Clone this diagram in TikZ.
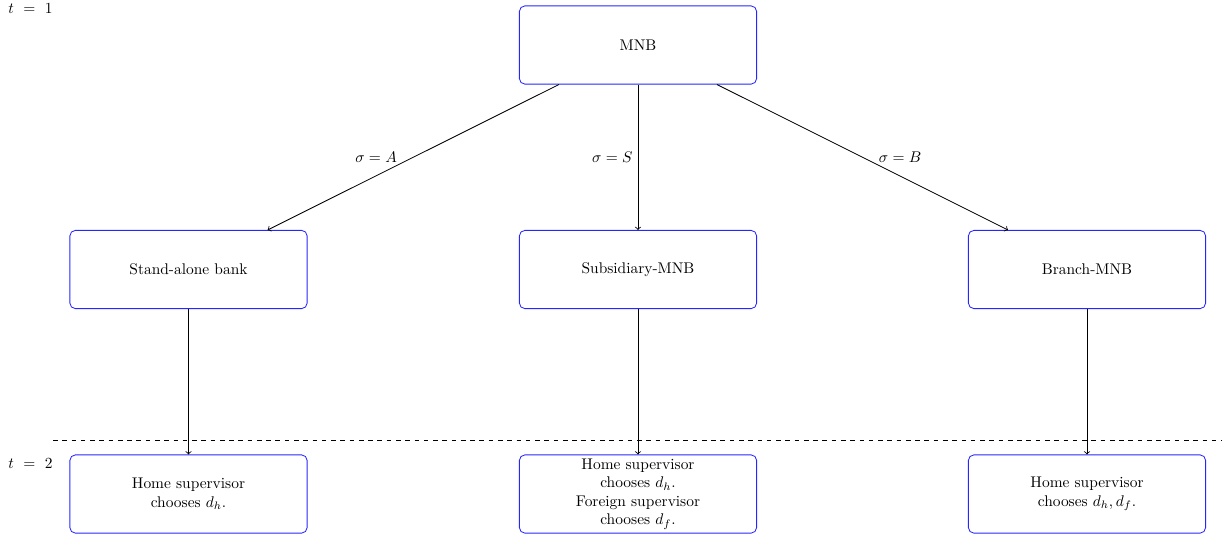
\documentclass[tikz,border=0pt]{standalone}
\begin{document}
\begin{tikzpicture}[x=0.6472pt,y=-0.6472pt, line width=0.55pt,
  box/.style={draw=blue!85, rounded corners=3.5pt, minimum width=153.5pt, minimum height=50.6pt, align=center, inner sep=1pt},
  lab/.style={inner sep=3.33pt},
  timelab/.style={inner sep=0pt}]
\useasboundingbox (0,0) rectangle (1222,535);
\node[box] (mnb) at (638,45) {MNB};
\node[box] (sa) at (188.5,269.5) {Stand-alone bank};
\node[box] (sub) at (638,269.5) {Subsidiary-MNB};
\node[box] (br) at (1087,269.5) {Branch-MNB};
\node[box] (h1) at (188.5,494) {Home supervisor\\chooses $d_h$.};
\node[box] (h2) at (638,494) {Home supervisor\\chooses $d_h$.\\Foreign supervisor\\chooses $d_f$.};
\node[box] (h3) at (1087,494) {Home supervisor\\chooses $d_h, d_f$.};
\node[timelab] (t1) at (30.5,9) {$t\ =\ 1$};
\node[timelab] (t2) at (30.5,464) {$t\ =\ 2$};
\coordinate (dl) at (53,440);
\coordinate (dr) at (1222,440);
\draw[dashed] (dl) -- (dr);
\draw[->] (mnb) -- node[midway,left=7pt,lab] {$\sigma = A$} (sa);
\draw[->] (mnb) -- node[midway,left,lab] {$\sigma = S$} (sub);
\draw[->] (mnb) -- node[midway,right=7pt,lab] {$\sigma = B$} (br);
\draw[->] (sa) -- (h1);
\draw[->] (sub) -- (h2);
\draw[->] (br) -- (h3);
\end{tikzpicture}
\end{document}
